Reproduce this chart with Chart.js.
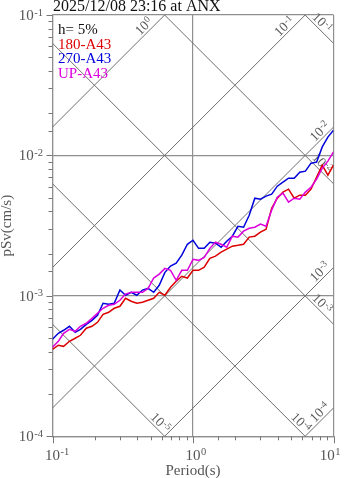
<!DOCTYPE html>
<html>
<head>
<meta charset="utf-8">
<script src="https://cdn.jsdelivr.net/npm/chart.js@4.4.1/dist/chart.umd.min.js"></script>
<style>
html,body{margin:0;padding:0;background:#fff;}
#wrap{width:347px;height:478px;position:relative;}
</style>
</head>
<body>
<div id="wrap"><canvas id="c"></canvas></div>
<script>
// ---- text ----
const titleText = "2025/12/08 23:16 at ANX";
const dampingText = "h= 5%";
const xAxisTitle = "Period(s)";
const yAxisTitle = "pSv(cm/s)";
const seriesNames = ["180-A43", "270-A43", "UP-A43"];
const seriesColors = ["#dd0000", "#0000dd", "#dd00dd"];

// ---- axes ----
const xRange = [0.1, 10];
const yRange = [0.0001, 0.1];
const xTickExponents = ["-1", "0", "1"];
const yTickExponents = ["-1", "-2", "-3", "-4"];

// ---- tripartite reference levels ----
const accelLevels = [1, 0.1, 0.01, 0.001, 0.0001];        // cm/s^2
const accelExponents = ["0", "-1", "-2", "-3", "-4"];
const dispLevels = [0.1, 0.01, 0.001, 0.0001, 0.00001];   // cm
const dispExponents = ["-1", "-2", "-3", "-4", "-5"];

// ---- data: period (s) and pseudo velocity (cm/s) ----
const periods = [0.100,0.110,0.120,0.132,0.145,0.158,0.174,0.191,0.209,0.229,0.251,0.275,0.302,0.331,0.363,0.398,0.437,0.479,0.525,0.575,0.631,0.692,0.759,0.832,0.912,1.000,1.096,1.202,1.318,1.445,1.585,1.738,1.905,2.089,2.291,2.512,2.754,3.020,3.311,3.631,3.981,4.365,4.786,5.248,5.754,6.310,6.918,7.586,8.318,9.120,10.00];
const sv180 = [4.16e-4,4.45e-4,4.37e-4,4.75e-4,4.99e-4,5.24e-4,5.88e-4,6.07e-4,6.48e-4,7.39e-4,7.64e-4,8.16e-4,8.43e-4,9.61e-4,9.15e-4,8.86e-4,9.00e-4,9.30e-4,9.61e-4,1.06e-3,1.01e-3,1.15e-3,1.27e-3,1.38e-3,1.34e-3,1.52e-3,1.52e-3,1.60e-3,1.85e-3,1.92e-3,2.05e-3,2.15e-3,2.26e-3,2.29e-3,2.33e-3,2.62e-3,2.66e-3,2.84e-3,2.98e-3,4.21e-3,4.96e-3,5.48e-3,5.75e-3,4.96e-3,5.21e-3,5.21e-3,5.75e-3,7.00e-3,8.53e-3,7.24e-3,8.53e-3];
const sv270 = [4.91e-4,5.41e-4,5.69e-4,6.07e-4,5.50e-4,5.78e-4,6.27e-4,6.70e-4,7.27e-4,8.86e-4,8.71e-4,8.86e-4,1.10e-3,1.01e-3,1.06e-3,1.01e-3,1.10e-3,1.13e-3,1.06e-3,1.19e-3,1.47e-3,1.63e-3,1.71e-3,1.95e-3,2.33e-3,2.49e-3,2.18e-3,2.18e-3,2.41e-3,2.37e-3,2.22e-3,2.45e-3,2.66e-3,3.13e-3,3.08e-3,3.75e-3,4.96e-3,4.88e-3,5.13e-3,5.30e-3,6.04e-3,6.45e-3,6.89e-3,6.89e-3,7.60e-3,7.73e-3,8.81e-3,8.96e-3,1.15e-2,1.35e-2,1.51e-2];
const svUP = [4.30e-4,4.75e-4,5.41e-4,5.78e-4,5.59e-4,6.07e-4,6.38e-4,6.92e-4,7.52e-4,8.16e-4,8.57e-4,8.71e-4,9.30e-4,1.03e-3,1.06e-3,1.06e-3,1.06e-3,1.13e-3,1.34e-3,1.43e-3,1.57e-3,1.52e-3,1.29e-3,1.52e-3,1.52e-3,1.82e-3,1.79e-3,1.88e-3,2.18e-3,2.41e-3,2.33e-3,2.22e-3,2.66e-3,2.62e-3,2.89e-3,3.03e-3,3.08e-3,3.24e-3,3.13e-3,4.08e-3,5.04e-3,5.39e-3,4.65e-3,4.96e-3,4.88e-3,5.48e-3,5.94e-3,6.78e-3,8.12e-3,9.11e-3,1.06e-2];

// ---- build datasets ----
const TWO_PI = 2 * Math.PI;
const toPts = vals => periods.map((p, i) => ({x: p, y: vals[i]}));
const seriesValues = [sv180, sv270, svUP];

// draw order: index 0 on top
const dataOrder = [2, 1, 0];
const datasets = dataOrder.map(k => ({
  label: seriesNames[k],
  data: toPts(seriesValues[k]),
  borderColor: seriesColors[k],
  borderWidth: 1.5,
  pointRadius: 0,
  tension: 0,
  fill: false,
  clip: 0
}));
const NDATA = datasets.length;

const GRID = "#8f8f8f";
const DIAG = "#6e6e6e";
accelLevels.forEach(a => datasets.push({
  label: "a" + a,
  data: xRange.map(T => ({x: T, y: a * T / TWO_PI})),
  borderColor: DIAG, borderWidth: 1, pointRadius: 0, tension: 0, clip: 0
}));
dispLevels.forEach(d => datasets.push({
  label: "d" + d,
  data: xRange.map(T => ({x: T, y: TWO_PI * d / T})),
  borderColor: DIAG, borderWidth: 1, pointRadius: 0, tension: 0, clip: 0
}));

const SERIF = "'Liberation Serif','DejaVu Serif',serif";
function isDecade(v) { const l = Math.log10(v); return Math.abs(l - Math.round(l)) < 1e-6; }

function powWidth(ctx, exp, bs, es) {
  ctx.font = bs + "px " + SERIF; const wb = ctx.measureText("10").width;
  ctx.font = es + "px " + SERIF; const we = ctx.measureText(exp).width;
  return [wb, we];
}
function drawPow(ctx, exp, x, baseline, bs, es, rise) {
  ctx.font = bs + "px " + SERIF;
  ctx.textAlign = "left"; ctx.textBaseline = "alphabetic";
  ctx.fillText("10", x, baseline);
  const wb = ctx.measureText("10").width;
  ctx.font = es + "px " + SERIF;
  ctx.fillText(exp, x + wb + 0.5, baseline - rise);
}

function drawDiagLabels(chart) {
  const ctx = chart.ctx, xs = chart.scales.x, ys = chart.scales.y;
  ctx.save();
  ctx.fillStyle = "#5a5a5a";
  const bs = 13.5, es = 9.5, perp = 5;
  function label(exp, ex, ey, up, along) {
    let ax, ay, cx, cy, ang;
    if (up) { ax = ex - along; ay = ey + along; cx = ax - perp; cy = ay - perp; ang = -Math.PI / 4; }
    else { ax = ex - along; ay = ey - along; cx = ax + perp; cy = ay - perp; ang = Math.PI / 4; }
    const [wb, we] = powWidth(ctx, exp, bs, es);
    const w = wb + we + 0.5;
    ctx.save();
    ctx.translate(cx, cy); ctx.rotate(ang);
    drawPow(ctx, exp, -w / 2, 4.5, bs, es, 4);
    ctx.restore();
  }
  accelLevels.forEach((a, i) => {
    let T = TWO_PI * yRange[1] / a, v = yRange[1], along = 16;
    if (T > xRange[1]) { T = xRange[1]; v = a * T / TWO_PI; along = 9; }
    label(accelExponents[i], xs.getPixelForValue(T), ys.getPixelForValue(v), true, along);
  });
  dispLevels.forEach((d, i) => {
    let T = xRange[1], v = TWO_PI * d / T, along = 16;
    if (v < yRange[0]) { v = yRange[0]; T = TWO_PI * d / v; along = 9; }
    label(dispExponents[i], xs.getPixelForValue(T), ys.getPixelForValue(v), false, along);
  });
  ctx.restore();
}

function drawFrameText(chart) {
  const ctx = chart.ctx, xs = chart.scales.x, ys = chart.scales.y, a = chart.chartArea;
  ctx.save();
  // tick marks
  ctx.strokeStyle = "#777"; ctx.lineWidth = 1;
  xs.ticks.forEach(t => {
    const px = Math.round(xs.getPixelForValue(t.value)) + 0.5;
    const len = isDecade(t.value) ? 7 : 4;
    ctx.beginPath(); ctx.moveTo(px, a.bottom); ctx.lineTo(px, a.bottom + len); ctx.stroke();
  });
  ys.ticks.forEach(t => {
    const py = Math.round(ys.getPixelForValue(t.value)) + 0.5;
    const len = isDecade(t.value) ? 6 : 4;
    ctx.beginPath(); ctx.moveTo(a.left - len, py); ctx.lineTo(a.left, py); ctx.stroke();
  });
  // tick labels
  ctx.fillStyle = "#555";
  yTickExponents.forEach(exp => {
    const v = Math.pow(10, parseInt(exp, 10));
    const py = ys.getPixelForValue(v);
    const [wb, we] = powWidth(ctx, exp, 15, 10.5);
    drawPow(ctx, exp, 43 - wb - we - 0.5, py + 5, 15, 10.5, 4.5);
  });
  xTickExponents.forEach(exp => {
    const v = Math.pow(10, parseInt(exp, 10));
    const px = xs.getPixelForValue(v);
    const [wb, we] = powWidth(ctx, exp, 15, 10.5);
    let x0 = px - wb / 2;
    if (x0 + wb + we > 340) x0 = 340 - wb - we;
    drawPow(ctx, exp, x0, 460, 15, 10.5, 5);
  });
  // axis titles
  ctx.font = "15px " + SERIF;
  ctx.textAlign = "center"; ctx.textBaseline = "alphabetic";
  ctx.fillText(xAxisTitle, (a.left + a.right) / 2, 475);
  ctx.save();
  ctx.translate(11, (a.top + a.bottom) / 2);
  ctx.rotate(-Math.PI / 2);
  ctx.fillText(yAxisTitle, 0, 0);
  ctx.restore();
  // title
  ctx.fillStyle = "#111";
  ctx.font = "16px " + SERIF; ctx.textAlign = "left";
  ctx.fillText(titleText, 53, 11);
  // legend
  ctx.font = "15px " + SERIF;
  ctx.fillStyle = "#111";
  ctx.fillText(dampingText, 58, 34);
  seriesNames.forEach((n, i) => {
    ctx.fillStyle = seriesColors[i];
    ctx.fillText(n, 58, 48.5 + i * 14.5);
  });
  ctx.restore();
}

const tripartite = {
  id: "tripartite",
  afterDatasetDraw(chart, args) { if (args.index === NDATA) drawDiagLabels(chart); },
  afterDraw(chart) { drawFrameText(chart); }
};

const gridColor = c => (c.tick && isDecade(c.tick.value)) ? GRID : "rgba(0,0,0,0)";

new Chart(document.getElementById("c"), {
  type: "line",
  data: { datasets },
  options: {
    responsive: true,
    maintainAspectRatio: false,
    devicePixelRatio: 1,
    animation: false,
    events: [],
    layout: { padding: { top: 15, right: 13.5, left: 0, bottom: 0 } },
    plugins: { legend: { display: false }, tooltip: { enabled: false }, title: { display: false } },
    scales: {
      x: {
        type: "logarithmic", min: xRange[0], max: xRange[1],
        ticks: { display: false, autoSkip: false },
        grid: { color: gridColor, lineWidth: 1.2, drawTicks: false },
        border: { display: true, color: GRID, width: 1.2 },
        afterFit: s => { s.height = 41.7; }
      },
      y: {
        type: "logarithmic", min: yRange[0], max: yRange[1],
        ticks: { display: false, autoSkip: false },
        grid: { color: gridColor, lineWidth: 1.2, drawTicks: false },
        border: { display: true, color: GRID, width: 1.2 },
        afterFit: s => { s.width = 52.5; }
      }
    }
  },
  plugins: [tripartite]
});
</script>
</body>
</html>
